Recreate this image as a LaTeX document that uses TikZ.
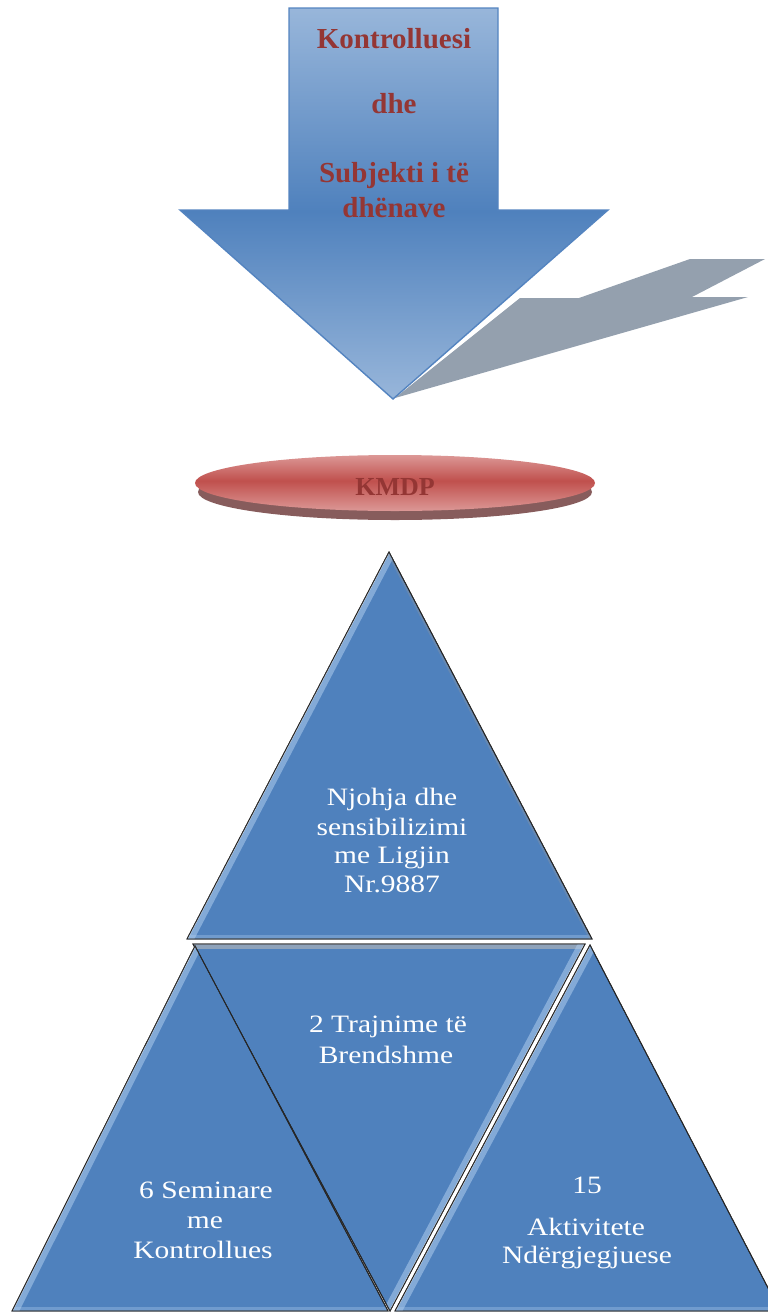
\documentclass[tikz,border=0pt]{standalone}
\usepackage{fontspec}
\setmainfont{Liberation Serif}
\definecolor{arrlight}{RGB}{152,182,218}
\definecolor{arrdark}{RGB}{79,129,189}
\definecolor{arredge}{RGB}{84,132,192}
\definecolor{shadowc}{RGB}{148,160,174}
\definecolor{kred}{RGB}{148,54,52}
\definecolor{elllight}{RGB}{220,152,150}
\definecolor{elldark}{RGB}{192,80,77}
\definecolor{ellside}{RGB}{135,92,92}
\definecolor{trifill}{RGB}{79,129,189}
\definecolor{bevel}{RGB}{175,205,238}
\pgfdeclareverticalshading{arrowsh}{100bp}{color(0bp)=(arrlight); color(25bp)=(arrlight); color(49bp)=(arrdark); color(75bp)=(arrlight); color(100bp)=(arrlight)}
\pgfdeclareverticalshading{ellsh}{100bp}{color(0bp)=(elllight); color(25bp)=(elllight); color(52bp)=(elldark); color(75bp)=(elllight); color(100bp)=(elllight)}
\newcommand{\sxw}[1]{\scalebox{1.18}[1]{#1}}
\tikzset{
  tri/.style={fill=trifill, draw=black!85, line width=0.9pt},
  wtext/.style={text=white, font=\fontsize{25}{29}\selectfont, anchor=base, inner sep=0pt},
  btext/.style={text=kred, font=\fontsize{29}{33}\selectfont\bfseries, anchor=base, inner sep=0pt},
  bevband/.style={draw=bevel, line width=13pt, opacity=0.55},
  bevline/.style={draw=white, line width=1.6pt, opacity=0.8},
}
\begin{document}
\begin{tikzpicture}[x=1pt,y=-1pt]
\useasboundingbox (0,0) rectangle (768,1312);
% shadow of arrow
\fill[shadowc] (395,398) -- (520,298) -- (579,298) -- (690,259) -- (765,259) -- (692,297) -- (748,297) -- cycle;
% arrow
\path[shading=arrowsh, draw=arredge, line width=1.4pt] (289,8) -- (498,8) -- (498,210) -- (608,210) -- (393,399) -- (180,210) -- (289,210) -- cycle;
\node[btext] (t1) at (394,48) {Kontrolluesi};
\node[btext] (t2) at (394,113) {dhe};
\node[btext] (t3) at (394,182) {Subjekti i të};
\node[btext] (t4) at (394,217) {dhënave};
% ellipse
\fill[ellside] (395,492) ellipse [x radius=197, y radius=28];
\path[shading=ellsh] (395,483) ellipse [x radius=200, y radius=28];
\node[btext, font=\fontsize{26}{30}\selectfont\bfseries] (kmdp) at (395,495) {KMDP};
% triangle coordinates
\coordinate (A1) at (389,552); \coordinate (B1) at (187,939); \coordinate (C1) at (592,939);
\coordinate (A2) at (193,944); \coordinate (B2) at (585,944); \coordinate (C2) at (390,1311);
\coordinate (A3) at (195,946); \coordinate (B3) at (12,1311); \coordinate (C3) at (388,1311);
\coordinate (A4) at (590,945); \coordinate (B4) at (395,1311); \coordinate (C4) at (780,1311);
% top triangle
\path[tri] (A1) -- (B1) -- (C1) -- cycle;
\begin{scope}
\clip (A1) -- (B1) -- (C1) -- cycle;
\path[bevband] (A1) -- (B1);
\path[bevband, opacity=0.35, line width=9pt] (B1) -- (C1);
\path[bevline, shift={(7,0)}] (A1) -- (B1);
\path[draw=black!40, line width=5pt, opacity=0.3] (A1) -- (C1);
\end{scope}
\path[draw=black!85, line width=0.9pt] (A1) -- (B1) -- (C1) -- cycle;
% middle inverted triangle
\path[tri] (A2) -- (B2) -- (C2) -- cycle;
\begin{scope}
\clip (A2) -- (B2) -- (C2) -- cycle;
\path[draw=gray!55, line width=9pt, opacity=0.6] (A2) -- (B2);
\path[bevband] (B2) -- (C2);
\path[bevline, shift={(-7,0)}] (B2) -- (C2);
\end{scope}
\path[draw=black!85, line width=0.9pt] (A2) -- (B2) -- (C2) -- cycle;
% left triangle
\path[tri] (A3) -- (B3) -- (C3) -- cycle;
\begin{scope}
\clip (A3) -- (B3) -- (C3) -- cycle;
\path[bevband] (A3) -- (B3);
\path[bevband, opacity=0.35, line width=9pt] (B3) -- (C3);
\path[bevline, shift={(7,0)}] (A3) -- (B3);
\end{scope}
\path[draw=black!85, line width=0.9pt] (A3) -- (B3) -- (C3) -- cycle;
% right triangle
\path[tri] (A4) -- (B4) -- (C4) -- cycle;
\begin{scope}
\clip (A4) -- (B4) -- (C4) -- cycle;
\path[bevband] (A4) -- (B4);
\path[bevband, opacity=0.35, line width=9pt] (B4) -- (C4);
\path[bevline, shift={(7,0)}] (A4) -- (B4);
\end{scope}
\path[draw=black!85, line width=0.9pt] (A4) -- (B4) -- (C4) -- cycle;
% texts
\node[wtext] (n1) at (392,805) {\sxw{Njohja dhe}};
\node[wtext] (n2) at (392,835) {\sxw{sensibilizimi}};
\node[wtext] (n3) at (392,863) {\sxw{me Ligjin}};
\node[wtext] (n4) at (392,892) {\sxw{Nr.9887}};
\node[wtext] (m1) at (388,1032) {\sxw{2 Trajnime të}};
\node[wtext] (m2) at (386,1063) {\sxw{Brendshme}};
\node[wtext] (l1) at (206,1198) {\sxw{6 Seminare}};
\node[wtext] (l2) at (205,1228) {\sxw{me}};
\node[wtext] (l3) at (203,1258) {\sxw{Kontrollues}};
\node[wtext] (r1) at (587,1193) {\sxw{15}};
\node[wtext] (r2) at (586,1235) {\sxw{Aktivitete}};
\node[wtext] (r3) at (587,1263) {\sxw{Ndërgjegjuese}};
\end{tikzpicture}
\end{document}
